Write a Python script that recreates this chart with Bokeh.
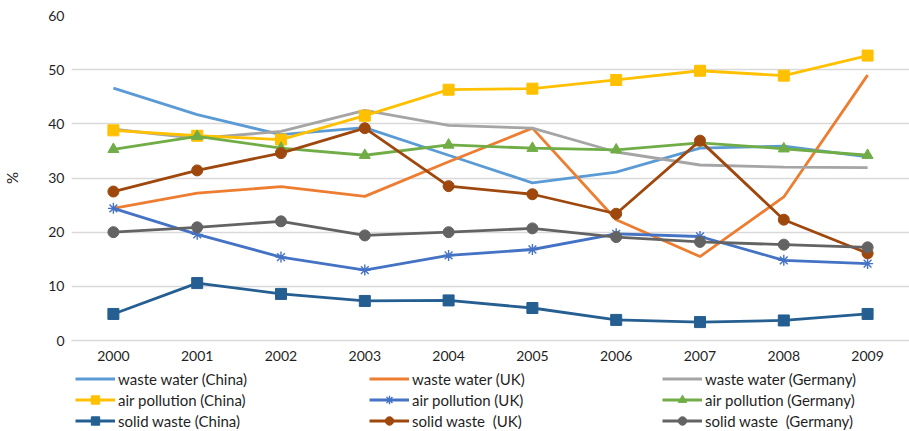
from bokeh.plotting import figure
from bokeh.layouts import column
from bokeh.models import Legend, LegendItem, FactorRange, Range1d, SingleIntervalTicker
from bokeh.embed import file_html
from bokeh.resources import INLINE

years = [str(y) for y in range(2000, 2010)]

waste_water_china = [46.6, 41.7, 38.0, 39.3, 34.2, 29.1, 31.1, 35.5, 35.9, 33.9]
waste_water_uk = [24.4, 27.2, 28.4, 26.6, 33.0, 39.2, 22.3, 15.5, 26.5, 49.0]
waste_water_germany = [39.0, 37.3, 38.6, 42.5, 39.7, 39.2, 34.8, 32.4, 32.0, 31.9]
air_pollution_china = [38.8, 37.8, 37.1, 41.5, 46.3, 46.5, 48.1, 49.8, 48.9, 52.6]
air_pollution_uk = [24.4, 19.6, 15.4, 13.0, 15.7, 16.8, 19.7, 19.2, 14.8, 14.2]
air_pollution_germany = [35.3, 37.7, 35.5, 34.2, 36.1, 35.5, 35.2, 36.5, 35.4, 34.2]
solid_waste_china = [4.9, 10.6, 8.6, 7.3, 7.4, 6.0, 3.8, 3.4, 3.7, 4.9]
solid_waste_uk = [27.5, 31.4, 34.6, 39.2, 28.5, 27.0, 23.4, 36.9, 22.3, 16.1]
solid_waste_germany = [20.0, 20.9, 22.0, 19.4, 20.0, 20.7, 19.1, 18.2, 17.7, 17.2]

labels = [
    "waste water (China)", "waste water (UK)", "waste water (Germany)",
    "air pollution (China)", "air pollution (UK)", "air pollution (Germany)",
    "solid waste (China)", "solid waste  (UK)", "solid waste  (Germany)",
]
values = [
    waste_water_china, waste_water_uk, waste_water_germany,
    air_pollution_china, air_pollution_uk, air_pollution_germany,
    solid_waste_china, solid_waste_uk, solid_waste_germany,
]
colors = [
    "#5B9BD5", "#ED7D31", "#A5A5A5",
    "#FFC000", "#4472C4", "#70AD47",
    "#255E91", "#9E480E", "#636363",
]
markers = [None, None, None, "square", "asterisk", "triangle", "square", "circle", "circle"]

FONT = "Lato"
TXT = "#1f1f1f"
LW = 2.8
MS = 11


def draw(fig, xs, ys, col, mk, visible=True):
    rs = [fig.line(xs, ys, line_color=col, line_width=LW, visible=visible)]
    if mk is not None:
        if mk == "asterisk":
            rs.append(fig.scatter(xs, ys, marker=mk, size=MS, line_color=col,
                                  line_width=1.4, visible=visible))
        else:
            rs.append(fig.scatter(xs, ys, marker=mk, size=MS, fill_color=col,
                                  line_color=col, visible=visible))
    return rs


# ---------- main chart ----------
p = figure(
    width=909, height=365,
    x_range=FactorRange(factors=years),
    y_range=Range1d(0, 60),
    output_backend="svg", toolbar_location=None,
    min_border_left=68, min_border_right=0, min_border_top=15, min_border_bottom=25,
)
p.outline_line_color = None
p.xgrid.grid_line_color = None
p.ygrid.grid_line_color = "#D9D9D9"
p.ygrid.grid_line_width = 1.3

p.yaxis.ticker = SingleIntervalTicker(interval=10)
p.yaxis.axis_line_color = None
p.yaxis.major_label_standoff = 7
p.yaxis.axis_label = "%"
p.yaxis.axis_label_standoff = 24
p.yaxis.axis_label_text_font_style = "normal"

p.xaxis.axis_line_color = "#D9D9D9"
p.xaxis.axis_line_width = 1.3
p.xaxis.major_label_standoff = 10

for ax in (p.xaxis, p.yaxis):
    ax.major_tick_line_color = None
    ax.minor_tick_line_color = None
    ax.major_tick_in = 0
    ax.major_tick_out = 0
    ax.minor_tick_in = 0
    ax.minor_tick_out = 0
    ax.major_label_text_font = FONT
    ax.major_label_text_font_size = "14px"
    ax.major_label_text_color = TXT
    ax.axis_label_text_font = FONT
    ax.axis_label_text_font_size = "15px"
    ax.axis_label_text_color = TXT

for vals, col, mk in zip(values, colors, markers):
    draw(p, years, vals, col, mk)

# ---------- legend strip ----------
q = figure(
    width=909, height=66,
    x_range=FactorRange(factors=years), y_range=Range1d(0, 60),
    x_axis_location=None, y_axis_location=None,
    output_backend="svg", toolbar_location=None,
    min_border_left=68, min_border_right=0, min_border_top=0, min_border_bottom=0,
)
q.grid.visible = False
q.outline_line_color = None

items = []
for lab, vals, col, mk in zip(labels, values, colors, markers):
    rs = draw(q, years, vals, col, mk, visible=False)
    items.append(LegendItem(label=lab, renderers=rs))

col_x = [4, 298, 591]
for c in range(3):
    leg = Legend(
        items=[items[c], items[c + 3], items[c + 6]],
        location=(col_x[c], 0),
        orientation="vertical",
        border_line_color=None,
        background_fill_alpha=0,
        inactive_fill_alpha=0,
        padding=0, margin=0, spacing=0,
        glyph_width=40, glyph_height=21, label_height=21,
        label_standoff=3,
        label_text_font=FONT, label_text_font_size="15px", label_text_color=TXT,
    )
    q.add_layout(leg, "center")

layout = column(p, q, spacing=0)
open("out.html", "w").write(file_html(layout, INLINE))
